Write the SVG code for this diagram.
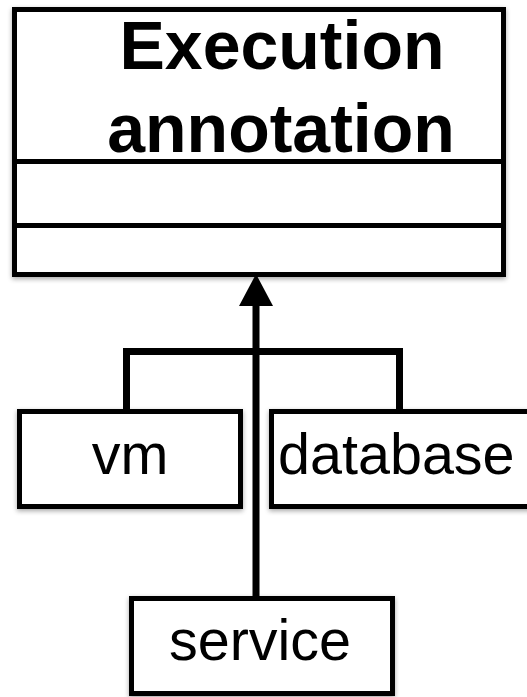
<svg xmlns="http://www.w3.org/2000/svg" width="527" height="697" viewBox="0 0 527 697">
<defs>
<filter id="sh" x="-10%" y="-10%" width="120%" height="120%">
<feGaussianBlur in="SourceAlpha" stdDeviation="2.5"/>
<feOffset dx="0" dy="2" result="b"/>
<feComponentTransfer><feFuncA type="linear" slope="0.35"/></feComponentTransfer>
<feMerge><feMergeNode/><feMergeNode in="SourceGraphic"/></feMerge>
</filter>
</defs>
<style>
.box{fill:#fff;stroke:#000;stroke-width:5;filter:url(#sh)}
.div{stroke:#000;stroke-width:5}
.title{font-family:"Liberation Sans",Arial,sans-serif;font-weight:bold;font-size:68px;text-anchor:middle;fill:#000}
.lbl{font-family:"Liberation Sans",Arial,sans-serif;font-size:57.5px;fill:#000}
.con{fill:none;stroke:#000;stroke-width:7}
</style>
<rect width="527" height="697" fill="#fff"/>
<g id="execution-annotation">
<rect class="box" x="14.5" y="9.5" width="489" height="265"/>
<line class="div" x1="14.5" y1="161.5" x2="503.5" y2="161.5"/>
<line class="div" x1="14.5" y1="225.5" x2="503.5" y2="225.5"/>
<text class="title" x="282" y="69">Execution</text>
<text class="title" x="281" y="152">annotation</text>
</g>
<g id="vm">
<rect class="box" x="19.5" y="411.5" width="221" height="95"/>
<text class="lbl" x="130" y="474" text-anchor="middle">vm</text>
</g>
<g id="database">
<rect class="box" x="271.5" y="411.5" width="270" height="95"/>
<text class="lbl" x="278" y="474">database</text>
</g>
<g id="service">
<rect class="box" x="131.5" y="598.5" width="261" height="95"/>
<text class="lbl" x="260" y="660" text-anchor="middle">service</text>
</g>
<g id="connectors">
<path class="con" d="M126.5,411 V351.5 H399.5 V411"/>
<line class="con" x1="256" y1="302" x2="256" y2="598"/>
<polygon points="256,274 239,306 273,306" fill="#000"/>
</g>
</svg>
